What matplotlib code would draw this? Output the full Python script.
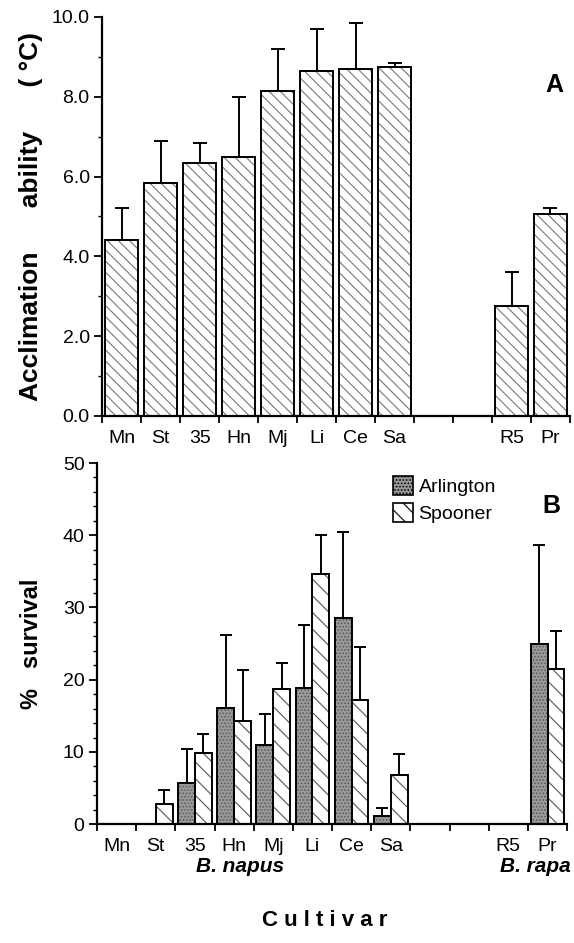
import matplotlib.pyplot as plt
import numpy as np
from matplotlib.ticker import MultipleLocator

plt.rcParams['font.family'] = ['Liberation Sans', 'DejaVu Sans']
plt.rcParams['hatch.linewidth'] = 0.8

# data
cultivars = ['Mn', 'St', '35', 'Hn', 'Mj', 'Li', 'Ce', 'Sa', '', '', 'R5', 'Pr']
accl = [4.4, 5.85, 6.35, 6.5, 8.15, 8.65, 8.7, 8.75, np.nan, np.nan, 2.75, 5.05]
accl_err = [0.8, 1.05, 0.5, 1.5, 1.05, 1.05, 1.15, 0.1, np.nan, np.nan, 0.85, 0.15]

arlington = [0, 0, 5.75, 16.1, 10.9, 18.9, 28.6, 1.15, np.nan, np.nan, 0, 25.0]
arlington_err = [0, 0, 4.6, 10.1, 4.4, 8.7, 11.8, 1.05, np.nan, np.nan, 0, 13.6]
spooner = [0, 2.8, 9.9, 14.3, 18.7, 34.6, 17.2, 6.75, np.nan, np.nan, 0, 21.5]
spooner_err = [0, 1.9, 2.6, 7.1, 3.6, 5.5, 7.3, 2.9, np.nan, np.nan, 0, 5.3]

x = np.arange(len(cultivars)) + 0.5

fig = plt.figure(figsize=(5.74, 9.43), dpi=100)
axA = fig.add_axes([0.178, 0.559, 0.815, 0.423])
axB = fig.add_axes([0.169, 0.126, 0.819, 0.383])


def style(ax, ymax, major, minor, fmt):
    ax.set_xlim(0, 12)
    ax.set_ylim(0, ymax)
    for s in ['top', 'right']:
        ax.spines[s].set_visible(False)
    for s in ['left', 'bottom']:
        ax.spines[s].set_linewidth(1.6)
    ax.yaxis.set_major_locator(MultipleLocator(major))
    ax.yaxis.set_minor_locator(MultipleLocator(minor))
    ax.yaxis.set_major_formatter(fmt)
    ax.set_xticks(np.arange(0, 13), minor=True)
    ax.set_xticks(x)
    ax.set_xticklabels(cultivars)
    ax.tick_params(axis='x', which='major', length=0, pad=10, labelsize=14)
    ax.tick_params(axis='x', which='minor', length=5, width=1.3, direction='out')
    ax.tick_params(axis='y', which='major', length=6, width=1.3, labelsize=14, pad=3)
    ax.tick_params(axis='y', which='minor', length=3, width=1.0)


# panel A
axA.bar(x, accl, width=0.85, facecolor='white', edgecolor='#777777',
        hatch='\\\\\\', linewidth=0)
axA.bar(x, accl, width=0.85, facecolor='none', edgecolor='black', linewidth=1.4)
axA.errorbar(x, accl, yerr=[np.zeros(len(x)), accl_err], fmt='none',
             ecolor='black', elinewidth=1.4, capsize=5, capthick=1.4)
style(axA, 10, 2, 1, '{x:.1f}')
axA.set_ylabel('Acclimation      ability      ( °C)', fontsize=19,
               fontweight='bold', labelpad=6)
axA.text(0.985, 0.83, 'A', transform=axA.transAxes, fontsize=18,
         fontweight='bold', ha='right', va='center')

# panel B
w = 0.43
xa = x - w / 2
xs = x + w / 2
axB.bar(xa, arlington, width=w, facecolor='#9a9a9a', edgecolor='#5a5a5a',
        hatch='.....', linewidth=0, label='Arlington')
axB.bar(xs, spooner, width=w, facecolor='white', edgecolor='#555555',
        hatch='\\\\', linewidth=0, label='Spooner')
axB.bar(xa, arlington, width=w, facecolor='none', edgecolor='black', linewidth=1.4)
axB.bar(xs, spooner, width=w, facecolor='none', edgecolor='black', linewidth=1.4)
axB.errorbar(xa, arlington, yerr=[np.zeros(len(x)), arlington_err], fmt='none',
             ecolor='black', elinewidth=1.4, capsize=4, capthick=1.4)
axB.errorbar(xs, spooner, yerr=[np.zeros(len(x)), spooner_err], fmt='none',
             ecolor='black', elinewidth=1.4, capsize=4, capthick=1.4)
style(axB, 50, 10, 2, '{x:.0f}')
axB.set_ylabel('%   survival', fontsize=17, fontweight='bold', labelpad=14)
axB.text(0.985, 0.88, 'B', transform=axB.transAxes, fontsize=18,
         fontweight='bold', ha='right', va='center')
leg = axB.legend(loc='upper right', bbox_to_anchor=(0.865, 0.985), frameon=False,
                 fontsize=14, handlelength=1.0, handleheight=1.1,
                 handletextpad=0.3, labelspacing=0.35, borderaxespad=0)
for h in leg.legend_handles:
    h.set_edgecolor('black')
    h.set_linewidth(1.2)

fig.text(240 / 574, 1 - 867 / 943, 'B. napus', fontsize=15, fontweight='bold',
         fontstyle='italic', ha='center', va='center')
fig.text(571 / 574, 1 - 867 / 943, 'B. rapa', fontsize=15, fontweight='bold',
         fontstyle='italic', ha='right', va='center')
fig.text(325 / 574, 1 - 921 / 943, 'C u l t i v a r', fontsize=16, fontweight='bold',
         ha='center', va='center')

fig.savefig('out.png', dpi=100)
